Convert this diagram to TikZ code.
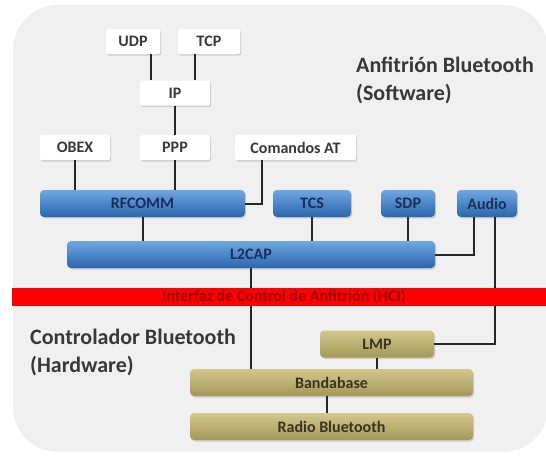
\documentclass[tikz,border=0pt]{standalone}
\usepackage{fontspec}
\setmainfont{Carlito}
\usetikzlibrary{shadows}

\definecolor{fondo}{HTML}{F0F0F0}
\definecolor{azulclaro}{HTML}{6FA7E0}
\definecolor{azuloscuro}{HTML}{2B66AE}
\definecolor{textoazul}{HTML}{1B2D5C}
\definecolor{olivaclaro}{HTML}{D3C78C}
\definecolor{olivaoscuro}{HTML}{A49759}
\definecolor{textooliva}{HTML}{3A3322}
\definecolor{rojotexto}{HTML}{9A0000}

\begin{document}
\begin{tikzpicture}[x=1pt, y=-1pt,
	caja/.style={minimum height=25pt, inner sep=0pt, font=\fontsize{16}{18}\selectfont\bfseries},
	blanca/.style={caja, rounded corners=1.5pt, fill=white, text=black!78,
		drop shadow={shadow xshift=1.2pt, shadow yshift=-1.5pt, opacity=0.3}},
	azul/.style={caja, minimum height=27pt, rounded corners=4pt, top color=azulclaro, bottom color=azuloscuro, text=textoazul,
		drop shadow={shadow xshift=1.2pt, shadow yshift=-1.5pt, opacity=0.3}},
	oliva/.style={caja, minimum height=27pt, rounded corners=4pt, top color=olivaclaro, bottom color=olivaoscuro, text=textooliva,
		drop shadow={shadow xshift=1.2pt, shadow yshift=-1.5pt, opacity=0.3}},
	linea/.style={line width=2pt, color=black!85},
	titulo/.style={font=\fontsize{22}{28}\selectfont\bfseries, text=black!78, align=left, inner sep=0pt}]
	
	% Fondo
		\useasboundingbox (0,0) rectangle (546,458);
		\fill[fondo, rounded corners=45pt] (13,5) rectangle (548,452);
	
	% Software
		\node[blanca, minimum width=54pt] (udp) at (133,41.5) {UDP};
		\node[blanca, minimum width=62pt] (tcp) at (209,41.5) {TCP};
		\node[blanca, minimum width=70pt] (ip) at (175,93) {IP};
		
		\node[blanca, minimum width=70pt] (obex) at (75,147.5) {OBEX};
		\node[blanca, minimum width=70pt] (ppp) at (175,147.5) {PPP};
		\node[blanca, minimum width=121pt] (comandos) at (295.5,147.5) {Comandos AT};
		
		\node[azul, minimum width=205pt] (rfcomm) at (142.5,203.5) {RFCOMM};
		\node[azul, minimum width=78pt] (tcs) at (312,203.5) {TCS};
		\node[azul, minimum width=54pt] (sdp) at (408,203.5) {SDP};
		\node[azul, minimum width=60pt] (audio) at (487,203.5) {Audio};
		\node[azul, minimum width=368pt] (l2cap) at (251,254.5) {L2CAP};
		
		\node[titulo, anchor=base west] (anfitrion) at (356,100) {Anfitrión Bluetooth\\(Software)};
	
	% Hardware
		\node[oliva, minimum width=114pt] (lmp) at (377,344) {LMP};
		\node[oliva, minimum width=283pt] (banda) at (331.5,382.5) {Bandabase};
		\node[oliva, minimum width=283pt] (radio) at (331.5,426.5) {Radio Bluetooth};
		
		\node[titulo, anchor=base west] (controlador) at (30,372) {Controlador Bluetooth\\(Hardware)};
	
	% Conexiones
		\draw[linea] ([xshift=18pt]udp.south) -- ([xshift=18pt]udp.south |- ip.north);
		\draw[linea] ([xshift=-14pt]tcp.south) -- ([xshift=-14pt]tcp.south |- ip.north);
		\draw[linea] (ip.south) -- (ppp.north);
		\draw[linea] (obex.south) -- (obex.south |- rfcomm.north);
		\draw[linea] (ppp.south) -- (ppp.south |- rfcomm.north);
		\draw[linea] ([xshift=-33.5pt]comandos.south) |- (rfcomm.east);
		
		\draw[linea] (rfcomm.south) -- (rfcomm.south |- l2cap.north);
		\draw[linea] (tcs.south) -- (tcs.south |- l2cap.north);
		\draw[linea] (sdp.south) -- (sdp.south |- l2cap.north);
		\draw[linea] ([xshift=-13pt]audio.south) |- (l2cap.east);
		\draw[linea] ([xshift=8pt]audio.south) |- (lmp.east);
		
		\draw[linea] (l2cap.south) -- (l2cap.south |- banda.north);
		\draw[linea] (lmp.south) -- (lmp.south |- banda.north);
		\draw[linea] ([xshift=-5pt]banda.south) -- ([xshift=-5pt]banda.south |- radio.north);
	
	% HCI
		\node[fill=red, minimum width=535pt, minimum height=18pt, inner sep=0pt, text=rojotexto, font=\fontsize{16}{18}\selectfont\bfseries] (hci) at (279.5,297) {\hspace{9pt}Interfaz de Control de Anfitrión (HCI)};
\end{tikzpicture}
\end{document}
